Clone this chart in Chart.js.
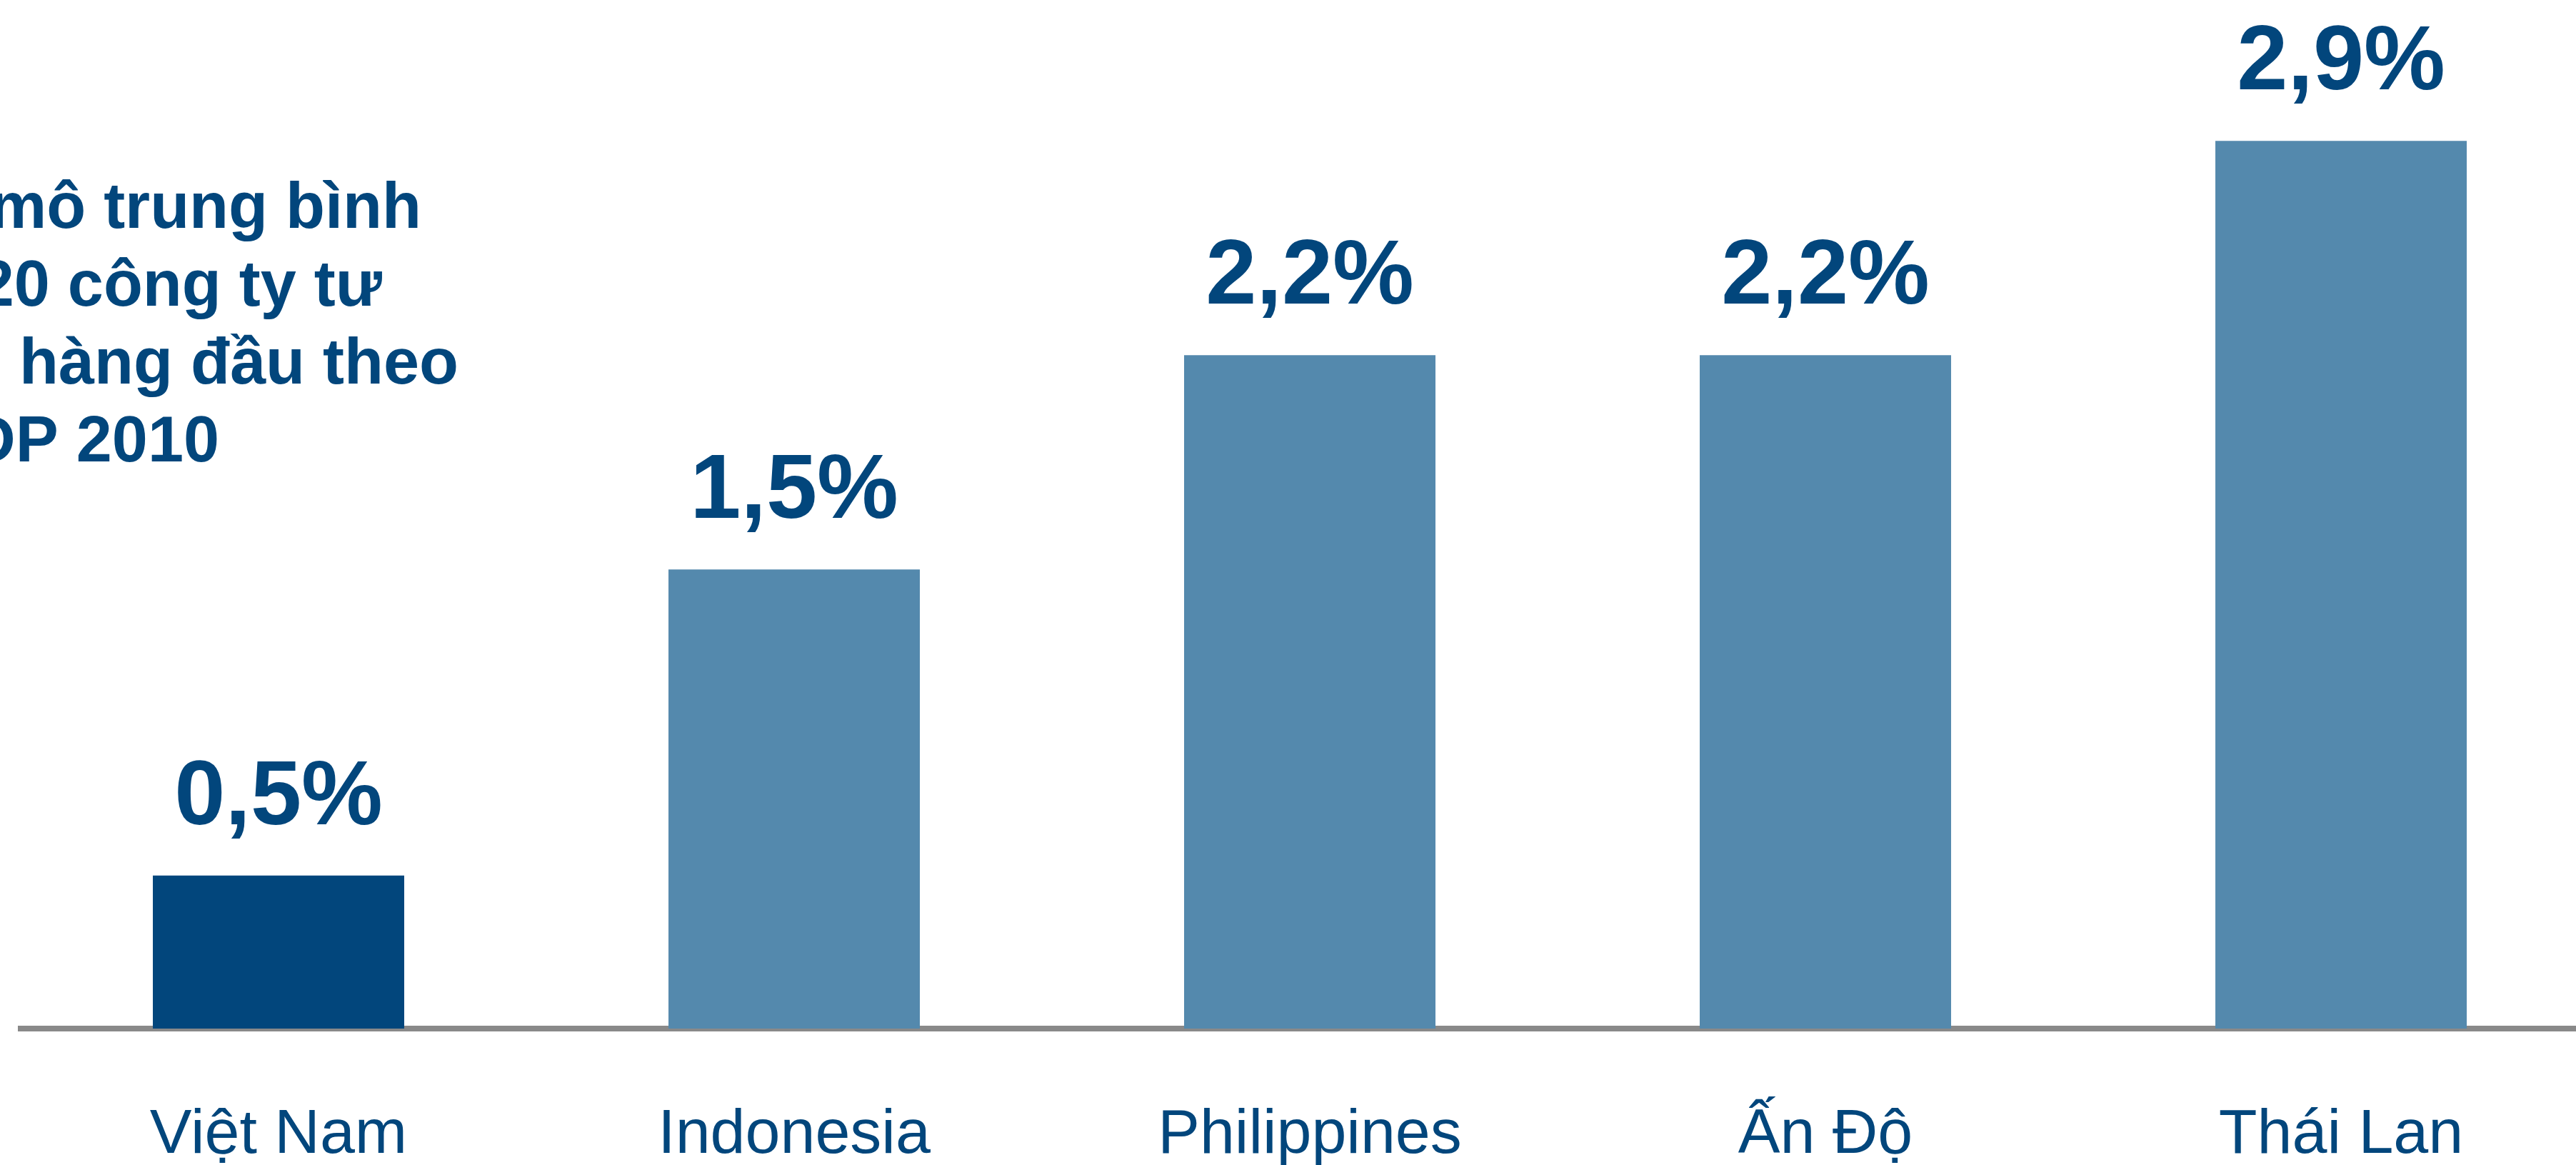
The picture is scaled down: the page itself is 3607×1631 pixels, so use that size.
<!DOCTYPE html>
<html>
<head>
<meta charset="utf-8">
<script src="https://cdn.jsdelivr.net/npm/chart.js@4.4.1/dist/chart.umd.min.js"></script>
<style>
html, body { margin: 0; padding: 0; background: #fff; overflow: hidden; }
#chart { display: block; }
</style>
</head>
<body>
<canvas id="chart" width="3639" height="1631"></canvas>
<script>
// Chart data
const countries = ['Việt Nam', 'Indonesia', 'Philippines', 'Ấn Độ', 'Thái Lan'];
const shares = [0.5, 1.5, 2.2, 2.2, 2.9];
const titleLines = ['mô trung bình', '20 công ty tư', 'hàng đầu theo', 'DP 2010'];

const DARK = '#02467C';
const LIGHT = '#5489AD';
const FONT = '"Liberation Sans", Arial, sans-serif';

// Format 2.2 -> "2,2%"
function formatShare(v) {
    return v.toFixed(1).replace('.', ',') + '%';
}

// Percent labels above each bar
const valueLabels = {
    id: 'valueLabels',
    afterDatasetsDraw(chart) {
        const ctx = chart.ctx;
        const meta = chart.getDatasetMeta(0);
        ctx.save();
        ctx.fillStyle = DARK;
        ctx.font = 'bold 128px ' + FONT;
        ctx.textAlign = 'center';
        ctx.textBaseline = 'alphabetic';
        meta.data.forEach((bar, i) => {
            ctx.fillText(formatShare(shares[i]), bar.x, bar.y - 72);
        });
        ctx.restore();
    }
};

// Title block in the upper left (cut off by the left edge in the source)
const titleBlock = {
    id: 'titleBlock',
    afterDraw(chart) {
        const ctx = chart.ctx;
        const rightEdges = [590, 535, 642, 307];
        ctx.save();
        ctx.fillStyle = DARK;
        ctx.font = 'bold 90px ' + FONT;
        ctx.textAlign = 'right';
        ctx.textBaseline = 'alphabetic';
        titleLines.forEach((line, i) => {
            ctx.fillText(line, rightEdges[i], 319 + i * 109);
        });
        ctx.restore();
    }
};

const ctx = document.getElementById('chart').getContext('2d');
const chart = new Chart(ctx, {
    type: 'bar',
    data: {
        labels: countries,
        datasets: [{
            data: shares,
            backgroundColor: c => c.dataIndex === 0 ? DARK : LIGHT,
            borderWidth: 0,
            categoryPercentage: 1.0,
            barPercentage: 0.4875
        }]
    },
    options: {
        responsive: false,
        animation: false,
        devicePixelRatio: 1,
        layout: {
            padding: { left: 29, top: 0, right: 0, bottom: 0 }
        },
        scales: {
            x: {
                z: 1,
                grid: { display: false, drawTicks: false },
                border: { display: true, color: '#898989', width: 8 },
                ticks: {
                    color: DARK,
                    font: { family: FONT, size: 88 },
                    padding: 97,
                    maxRotation: 0,
                    autoSkip: false
                },
                afterFit: function(scale) {
                    scale.height = 191;
                }
            },
            y: {
                display: false,
                min: 0,
                max: 3.36
            }
        },
        plugins: {
            legend: { display: false },
            tooltip: { enabled: false }
        }
    },
    plugins: [valueLabels, titleBlock]
});
</script>
</body>
</html>
